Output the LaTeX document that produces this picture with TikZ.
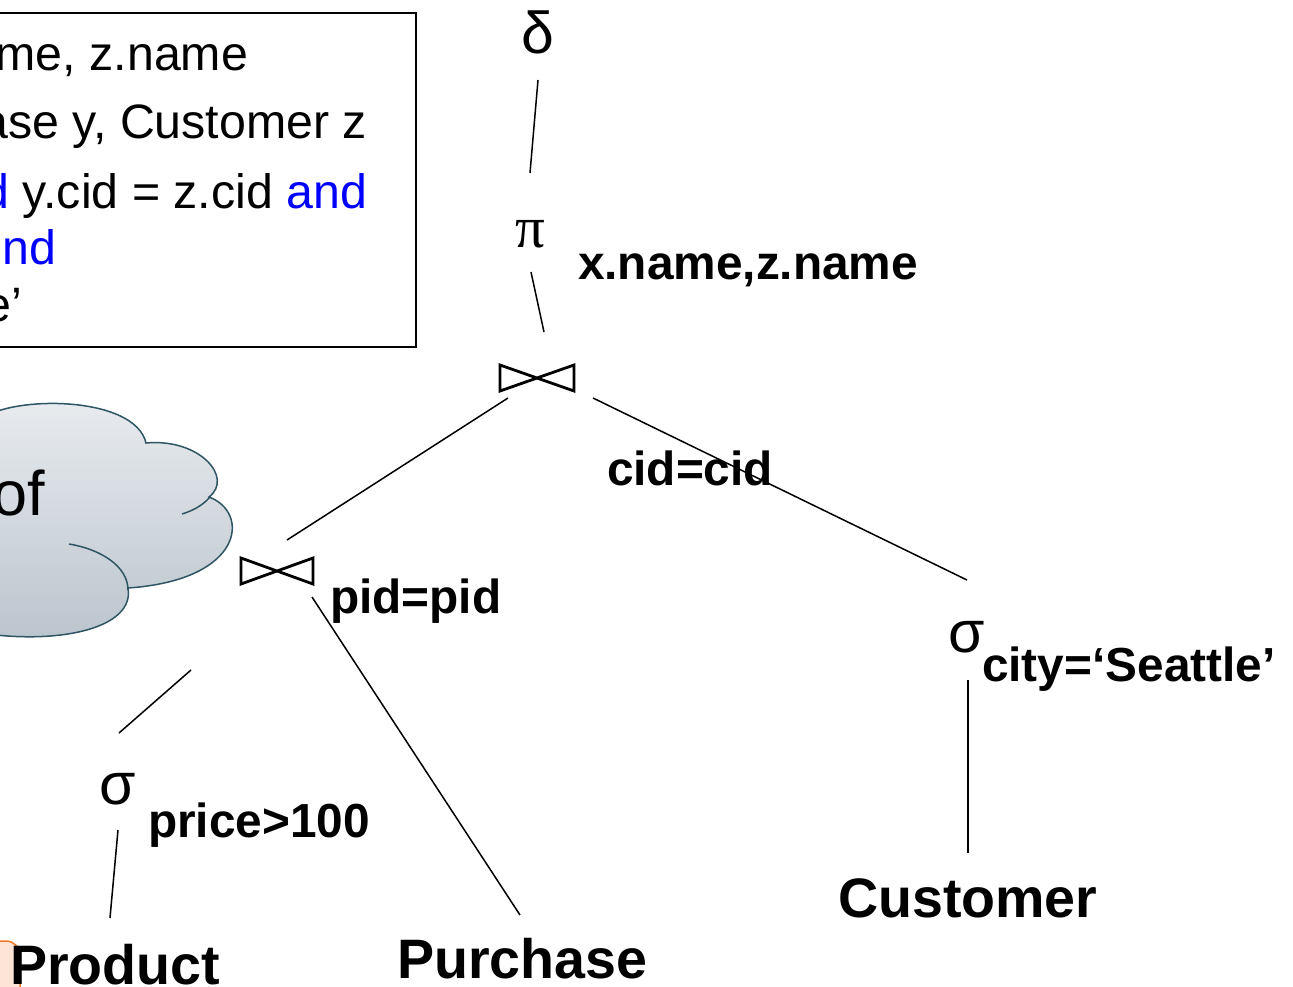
\documentclass[tikz,border=0pt]{standalone}
\usepackage{fontspec}
\setmainfont{Liberation Sans}
\newfontfamily\serifgreek{Liberation Serif}
\newcommand\lblfont{\fontsize{47.8}{57}\selectfont\bfseries}
\newcommand\relfont{\fontsize{55.6}{66}\selectfont\bfseries}
\newcommand\boxfont{\fontsize{48.3}{58}\selectfont}
\newcommand\grkfont{\fontsize{59}{70}\selectfont}
\newcommand\cloudfont{\fontsize{63}{75}\selectfont}
\definecolor{kwblue}{RGB}{0,0,255}
\definecolor{cloudtop}{RGB}{233,236,239}
\definecolor{cloudbot}{RGB}{186,196,205}
\definecolor{cloudline}{RGB}{47,85,100}
\definecolor{notefill}{RGB}{252,228,214}
\definecolor{noteline}{RGB}{232,122,40}
\begin{document}
\begin{tikzpicture}[x=1pt,y=-1pt,
  txt/.style={inner sep=0pt, outer sep=0pt},
  edge/.style={line width=1.5pt},
  bowtie/.style={line width=2.8pt, line join=miter}]
\useasboundingbox (0,0) rectangle (1293,986);
\clip (0,0) rectangle (1293,986);

% SQL box
\draw[line width=2pt] (-20,13) rectangle (416,347);
\node[txt, anchor=base east] (q1) at (248,70) {\boxfont me, z.name};
\node[txt, anchor=base east] (q2) at (367,138) {\boxfont ase y, Customer z};
\node[txt, anchor=base east] (q3) at (367,208) {\boxfont\textcolor{kwblue}{d} y.cid = z.cid \textcolor{kwblue}{and}};
\node[txt, anchor=base east] (q4) at (56,264) {\boxfont\textcolor{kwblue}{nd}};
\node[txt, anchor=base east] (q5) at (22,321) {\boxfont e’};

% cloud
\path[draw=cloudline, line width=1.5pt, top color=cloudtop, bottom color=cloudbot]
  (-20,420) .. controls (10,395) and (135,395) .. (146,443)
  .. controls (200,438) and (234,478) .. (209,497)
  .. controls (250,512) and (245,580) .. (128,588)
  .. controls (135,628) and (60,645) .. (-20,633) -- cycle;
\draw[cloudline, line width=1.5pt] (182,514) .. controls (195,510) and (204,504) .. (210,497);
\draw[cloudline, line width=1.5pt] (69,544) .. controls (100,549) and (128,566) .. (128,590);
\node[txt, anchor=base east] (cloudtxt) at (45,515) {\cloudfont of};

% orange note corner
\draw[fill=notefill, draw=noteline, line width=1.5pt, rounded corners=14pt] (-40,941) rectangle (20,1020);

% operators
\node[txt, anchor=base] (delta) at (538,53) {\grkfont δ};
\node[txt, anchor=base] (pi) at (530,247) {\grkfont\serifgreek π};
\node[txt, anchor=base west] (pilbl) at (578,279) {\lblfont x.name,z.name};
\draw[bowtie] (500,365) -- (500,391) -- (574,365) -- (574,391) -- cycle;
\coordinate (join1) at (537,378);
\node[txt, anchor=base west] (j1lbl) at (607,485) {\lblfont cid=cid};
\draw[bowtie] (241,558) -- (241,584) -- (313,558) -- (313,584) -- cycle;
\coordinate (join2) at (277,571);
\node[txt, anchor=base west] (j2lbl) at (330,613) {\lblfont pid=pid};
\node[txt, anchor=base] (sig1) at (118,804) {\grkfont σ};
\node[txt, anchor=base west] (sig1lbl) at (148,837) {\lblfont price>100};
\node[txt, anchor=base] (sig2) at (967,652) {\grkfont σ};
\node[txt, anchor=base west] (sig2lbl) at (982,681) {\lblfont city=‘Seattle’};

% relations
\node[txt, anchor=base west] (product) at (10,984) {\relfont Product};
\node[txt, anchor=base west] (purchase) at (397,978) {\relfont Purchase};
\node[txt, anchor=base west] (customer) at (838,917) {\relfont Customer};

% connector end points
\coordinate (delta-s) at (538,80);
\coordinate (pi-n) at (530,173);
\coordinate (pi-s) at (531,272);
\coordinate (join1-n) at (544,332);
\coordinate (join1-sw) at (508,398);
\coordinate (join2-ne) at (287,540);
\coordinate (join1-se) at (593,398);
\coordinate (sig2-n) at (967,580);
\coordinate (join2-sw) at (191,670);
\coordinate (sig1-n) at (119,733);
\coordinate (join2-se) at (312,597);
\coordinate (purchase-n) at (520,915);
\coordinate (sig1-s) at (118,830);
\coordinate (product-n) at (110,918);
\coordinate (sig2-s) at (968,680);
\coordinate (customer-n) at (968,853);

\draw[edge] (delta-s) -- (pi-n);
\draw[edge] (pi-s) -- (join1-n);
\draw[edge] (join1-sw) -- (join2-ne);
\draw[edge] (join1-se) -- (sig2-n);
\draw[edge] (join2-sw) -- (sig1-n);
\draw[edge] (join2-se) -- (purchase-n);
\draw[edge] (sig1-s) -- (product-n);
\draw[edge] (sig2-s) -- (customer-n);
\end{tikzpicture}
\end{document}
